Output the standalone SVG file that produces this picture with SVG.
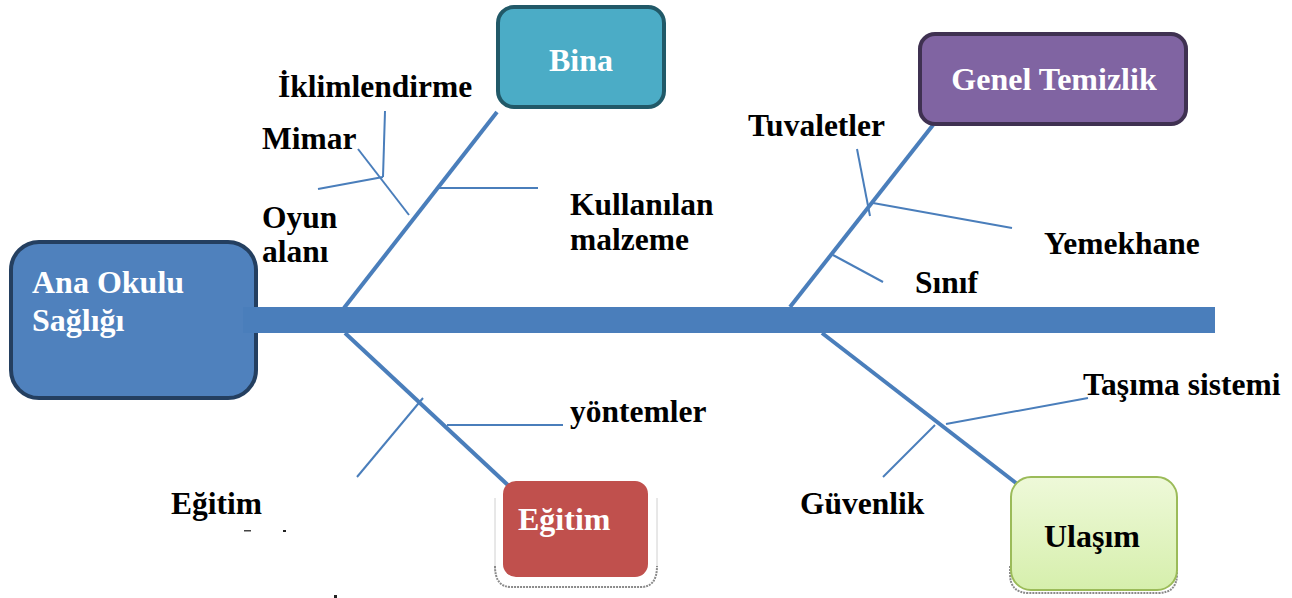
<svg xmlns="http://www.w3.org/2000/svg" width="1292" height="598" viewBox="0 0 1292 598">
  <defs>
    <linearGradient id="greenFill" x1="0" y1="0" x2="0" y2="1">
      <stop offset="0" stop-color="#EEF9D9"/>
      <stop offset="1" stop-color="#D6EFAC"/>
    </linearGradient>
    <style>
      .bone { stroke: #4A7EBB; stroke-width: 4; fill: none; stroke-linecap: butt; }
      .rib { stroke: #4A7EBB; stroke-width: 2; fill: none; }
      .lbl { font-family: "Liberation Serif", "Times New Roman", serif; font-weight: bold; font-size: 31.5px; fill: #000; }
      .head { font-family: "Liberation Serif", "Times New Roman", serif; font-weight: bold; font-size: 32px; fill: #fff; }
      .edge { fill: none; stroke: #8A8A8A; stroke-width: 2; stroke-dasharray: 2 1; }
      .side { fill: none; stroke: #D0D0D0; stroke-width: 1; }
    </style>
  </defs>
  <rect width="1292" height="598" fill="#fff"/>

  <!-- head box -->
  <g id="ana-okulu">
    <rect x="11" y="242" width="245" height="156" rx="28" fill="#4F81BD" stroke="#243F60" stroke-width="4"/>
    <text class="head" x="32" y="293">Ana Okulu</text>
    <text class="head" x="32" y="331">Sağlığı</text>
  </g>

  <!-- spine, bones and ribs -->
  <g id="connectors">
    <rect x="243" y="307" width="972" height="26" fill="#4A7EBB"/>
    <line class="bone" x1="344" y1="308" x2="497" y2="112"/>
    <line class="bone" x1="790" y1="307" x2="933" y2="125"/>
    <line class="bone" x1="345" y1="333" x2="511" y2="488"/>
    <line class="bone" x1="822" y1="333" x2="1016" y2="483"/>

    <line class="rib" x1="437" y1="188" x2="538" y2="188"/>
    <line class="rib" x1="358" y1="149" x2="409" y2="215"/>
    <line class="rib" x1="318" y1="189" x2="383" y2="177"/>
    <line class="rib" x1="385" y1="111" x2="383" y2="177"/>

    <line class="rib" x1="857" y1="149" x2="870" y2="216"/>
    <line class="rib" x1="873" y1="203" x2="1012" y2="228"/>
    <line class="rib" x1="833" y1="255" x2="883" y2="282"/>

    <line class="rib" x1="357" y1="477" x2="423" y2="398"/>
    <line class="rib" x1="447" y1="425" x2="563" y2="425"/>

    <line class="rib" x1="946" y1="424" x2="1088" y2="398"/>
    <line class="rib" x1="883" y1="477" x2="935" y2="425"/>
  </g>

  <g id="bina">
    <rect x="498" y="7" width="166" height="100" rx="16" fill="#4BACC6" stroke="#215968" stroke-width="4"/>
    <text class="head" x="581" y="71" text-anchor="middle">Bina</text>
  </g>

  <g id="genel-temizlik">
    <rect x="920" y="34" width="266" height="90" rx="15" fill="#8064A2" stroke="#3F3151" stroke-width="4"/>
    <text class="head" x="1054" y="90" text-anchor="middle">Genel Temizlik</text>
  </g>

  <g id="egitim">
    <path class="side" d="M495 498 L495 570 M657 498 L657 570"/>
    <path class="edge" d="M495 566 Q495 587 511 587 L641 587 Q657 587 657 566"/>
    <rect x="503" y="481" width="145" height="96" rx="13" fill="#C0504D"/>
    <text class="head" x="518" y="530">Eğitim</text>
  </g>

  <g id="ulasim">
    <path class="edge" d="M1010 566 L1010 574 Q1010 593 1029 593 L1158 593 Q1177 593 1177 574 L1177 566"/>
    <rect x="1011" y="477" width="166" height="113" rx="20" fill="url(#greenFill)" stroke="#9BBB59" stroke-width="2"/>
    <text class="head" x="1092" y="547" text-anchor="middle" style="fill:#000">Ulaşım</text>
  </g>

  <!-- cause labels -->
  <g id="labels">
    <text class="lbl" x="278" y="97">İklimlendirme</text>
    <text class="lbl" x="262" y="149">Mimar</text>
    <text class="lbl" x="262" y="228">Oyun</text>
    <text class="lbl" x="262" y="262">alanı</text>
    <text class="lbl" x="570" y="215">Kullanılan</text>
    <text class="lbl" x="570" y="250">malzeme</text>
    <text class="lbl" x="748" y="136">Tuvaletler</text>
    <text class="lbl" x="1044" y="254">Yemekhane</text>
    <text class="lbl" x="915" y="293">Sınıf</text>
    <text class="lbl" x="570" y="422">yöntemler</text>
    <text class="lbl" x="1083" y="395">Taşıma sistemi</text>
    <text class="lbl" x="800" y="514">Güvenlik</text>
    <text class="lbl" x="171" y="514">Eğitim</text>
  </g>

  <!-- small leftover marks -->
  <rect x="244" y="530" width="7" height="1.5" fill="#444"/>
  <rect x="283" y="530" width="3" height="2" fill="#222"/>
  <rect x="334" y="595" width="3" height="3" fill="#222"/>
</svg>
